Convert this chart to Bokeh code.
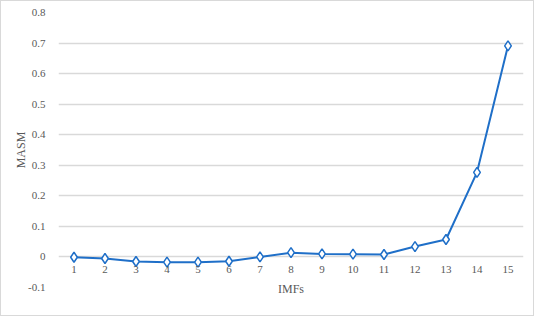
from bokeh.plotting import figure
from bokeh.models import Range1d, FixedTicker, NumeralTickFormatter, ColumnDataSource, LinearAxis
from bokeh.embed import file_html
from bokeh.resources import INLINE

imfs = list(range(1, 16))
masm = [-0.001, -0.005, -0.015, -0.017, -0.017, -0.014, 0.0, 0.014, 0.010, 0.009, 0.008, 0.034, 0.057, 0.277, 0.691]
y_ticks = [-0.1, 0, 0.1, 0.2, 0.3, 0.4, 0.5, 0.6, 0.7, 0.8]

FONT = "Liberation Serif"
TXT = "#595959"
BLUE = "#1f6fc8"

p = figure(width=534, height=316, output_backend="svg", toolbar_location=None,
           x_range=Range1d(0.5, 15.5), y_range=Range1d(-0.1, 0.8),
           min_border_left=57, min_border_right=12, min_border_top=11, min_border_bottom=30)
p.styles = {"border": "1px solid #d9d9d9"}
p.outline_line_color = None
p.background_fill_color = "white"
p.border_fill_color = "white"

src = ColumnDataSource(dict(x=imfs, y=masm))
p.line("x", "y", source=src, line_color=BLUE, line_width=2)
p.scatter("x", "y", source=src, marker="diamond", size=10, fill_color="white",
          line_color=BLUE, line_width=1.5)

p.xgrid.grid_line_color = None
p.ygrid.grid_line_color = "#d9d9d9"
p.ygrid.grid_line_width = 1.3

xa = p.xaxis[0]
xa.ticker = FixedTicker(ticks=imfs)
xa.fixed_location = 0
xa.axis_line_color = None
xa.major_tick_line_color = None
xa.minor_tick_line_color = None
xa.major_label_standoff = 3
xa.major_label_text_font = FONT
xa.major_label_text_font_size = "11px"
xa.major_label_text_color = TXT

# title axis below the frame, only carries the "IMFs" label
xt = LinearAxis(ticker=FixedTicker(ticks=[]), axis_label="IMFs")
xt.axis_line_color = None
xt.major_tick_line_color = None
xt.minor_tick_line_color = None
xt.major_label_text_font_size = "0px"
xt.major_tick_out = 0
xt.major_label_standoff = 0
xt.axis_label_standoff = -6
xt.axis_label_text_font = FONT
xt.axis_label_text_font_style = "normal"
xt.axis_label_text_font_size = "12px"
xt.axis_label_text_color = TXT
p.add_layout(xt, "below")

ya = p.yaxis[0]
ya.ticker = FixedTicker(ticks=y_ticks)
ya.formatter = NumeralTickFormatter(format="0.[0]")
ya.axis_line_color = None
ya.major_tick_line_color = None
ya.minor_tick_line_color = None
ya.major_label_standoff = 7
ya.axis_label = "MASM"
ya.axis_label_standoff = -3
ya.axis_label_text_font = FONT
ya.axis_label_text_font_style = "normal"
ya.axis_label_text_font_size = "12px"
ya.axis_label_text_color = TXT
ya.major_label_text_font = FONT
ya.major_label_text_font_size = "11px"
ya.major_label_text_color = TXT

open("out.html", "w").write(file_html(p, INLINE))
